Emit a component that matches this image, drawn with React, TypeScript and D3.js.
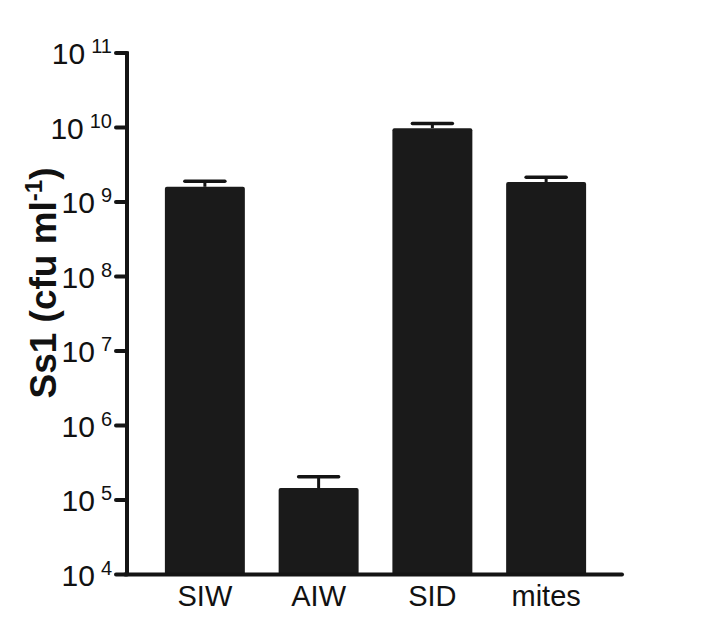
import React from "react";
import * as d3 from "d3";

const categories = ["SIW", "AIW", "SID", "mites"];
const means = [1.6e9, 1.45e5, 9.8e9, 1.85e9];
const upperErr = [1.9e9, 2.05e5, 1.13e10, 2.15e9];
const tickExponents = [4, 5, 6, 7, 8, 9, 10, 11];

const W = 720;
const H = 632;
const axisX = 127;
const axisRight = 622;
const yTop = 53;
const yBottom = 574.5;

export default function App() {
  const y = d3.scaleLog().domain([1e4, 1e11]).range([yBottom, yTop]);
  const x = d3
    .scaleBand<string>()
    .domain(categories)
    .range([148, 603])
    .paddingInner(0.297)
    .paddingOuter(0.1485);
  const bw = x.bandwidth();
  const font = "Arial, 'Liberation Sans', Helvetica, sans-serif";
  const ink = "#141414";

  return (
    <svg
      width={W}
      height={H}
      style={{ position: "absolute", left: 0, top: 0, background: "#fff" }}
      fontFamily={font}
    >
      {categories.map((c, i) => {
        const x0 = x(c)!;
        const cx = x0 + bw / 2;
        const top = y(means[i]);
        const capY = y(upperErr[i]);
        return (
          <g key={c}>
            <rect x={x0} y={top} width={bw} height={yBottom - top} fill="#1a1a1a" rx={2} />
            <line x1={cx} x2={cx} y1={capY} y2={top} stroke={ink} strokeWidth={3} />
            <line x1={cx - 20} x2={cx + 20} y1={capY} y2={capY} stroke={ink} strokeWidth={3.5} strokeLinecap="round" />
            <text x={cx} y={606} textAnchor="middle" fontSize={29} fill="#111">
              {c}
            </text>
          </g>
        );
      })}
      {/* axes */}
      <line x1={axisX} x2={axisX} y1={yTop - 1.5} y2={yBottom + 1.5} stroke={ink} strokeWidth={4} />
      <line x1={axisX - 2} x2={axisRight} y1={yBottom} y2={yBottom} stroke={ink} strokeWidth={4} strokeLinecap="round" />
      {tickExponents.map((e) => {
        const ty = y(Math.pow(10, e));
        return (
          <g key={e}>
            <line x1={axisX - 11} x2={axisX} y1={ty} y2={ty} stroke={ink} strokeWidth={4} strokeLinecap="round" />
            <text x={112} y={ty + 11} textAnchor="end" fill="#111">
              <tspan fontSize={30}>10</tspan>
              <tspan fontSize={20} dx={6} dy={-11}>
                {e}
              </tspan>
            </text>
          </g>
        );
      })}
      <text
        transform={`translate(56, 283) rotate(-90)`}
        textAnchor="middle"
        fontSize={37}
        fontWeight="bold"
        fill="#111"
      >
        Ss1 (cfu ml
        <tspan fontSize={24} dy={-14}>-1</tspan>
        <tspan dy={14}>)</tspan>
      </text>
    </svg>
  );
}
